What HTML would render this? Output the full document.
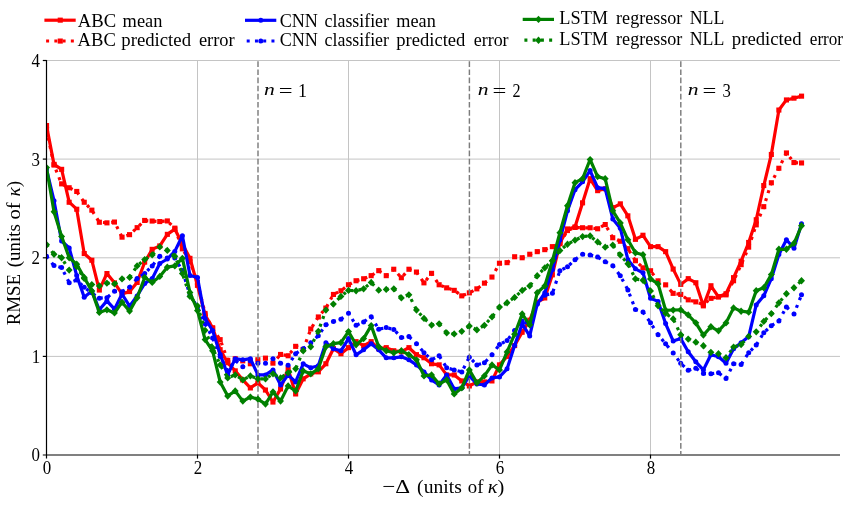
<!DOCTYPE html>
<html><head><meta charset="utf-8"><title>RMSE chart</title>
<style>
html,body{margin:0;padding:0;background:#fff;}
body{width:847px;height:507px;position:relative;overflow:hidden;font-family:"Liberation Serif",serif;color:#000;}
</style></head><body>
<svg width="847" height="507" viewBox="0 0 847 507" style="position:absolute;left:0;top:0;will-change:transform">
<line x1="46" y1="356.4" x2="840" y2="356.4" stroke="#c4c4c4" stroke-width="1"/>
<line x1="46" y1="257.8" x2="840" y2="257.8" stroke="#c4c4c4" stroke-width="1"/>
<line x1="46" y1="159.1" x2="840" y2="159.1" stroke="#c4c4c4" stroke-width="1"/>
<line x1="46" y1="60.5" x2="840" y2="60.5" stroke="#c4c4c4" stroke-width="1"/>
<line x1="197.5" y1="60" x2="197.5" y2="454" stroke="#c4c4c4" stroke-width="1"/>
<line x1="348.5" y1="60" x2="348.5" y2="454" stroke="#c4c4c4" stroke-width="1"/>
<line x1="499.5" y1="60" x2="499.5" y2="454" stroke="#c4c4c4" stroke-width="1"/>
<line x1="650.5" y1="60" x2="650.5" y2="454" stroke="#c4c4c4" stroke-width="1"/>
<defs><clipPath id="pc"><rect x="46.5" y="55" width="800" height="400"/></clipPath></defs><g clip-path="url(#pc)">
<polyline points="46.5,125.6 54.0,164.4 61.6,169.4 69.2,202.2 76.7,209.2 84.2,253.5 91.8,260.2 99.3,290.1 106.9,273.5 114.5,282.8 122.0,293.9 129.6,291.6 137.1,282.4 144.7,262.2 152.2,249.4 159.8,245.9 167.3,234.4 174.8,229.1 182.4,243.9 190.0,258.3 197.5,285.4 205.1,315.0 212.6,327.8 220.2,349.7 227.7,362.8 235.2,370.9 242.8,379.9 250.4,387.9 257.9,382.9 265.5,390.0 273.0,402.0 280.6,388.9 288.1,368.8 295.6,394.0 303.2,378.9 310.8,373.8 318.3,371.9 325.9,363.8 333.4,348.7 340.9,353.7 348.5,347.7 356.1,341.7 363.6,345.7 371.2,341.7 378.7,348.7 386.2,347.7 393.8,350.8 401.4,351.7 408.9,347.7 416.5,354.7 424.0,357.8 431.6,363.8 439.1,364.9 446.7,374.9 454.2,374.9 461.8,380.9 469.3,386.0 476.9,381.9 484.4,381.9 492.0,380.9 499.5,364.9 507.1,356.4 514.6,345.5 522.2,332.2 529.7,320.2 537.2,302.1 544.8,298.0 552.4,274.8 559.9,243.0 567.5,229.0 575.0,227.0 582.6,202.8 590.1,178.7 597.6,190.7 605.2,188.7 612.8,207.8 620.3,203.8 627.9,215.8 635.4,239.3 643.0,235.3 650.5,246.6 658.1,246.6 665.6,251.6 673.2,269.1 680.7,284.4 688.2,278.7 695.8,282.7 703.4,305.9 710.9,285.8 718.5,296.8 726.0,293.7 733.6,277.7 741.1,261.2 748.7,242.5 756.2,219.8 763.8,185.6 771.3,154.5 778.9,110.0 786.4,99.9 794.0,98.2 801.5,96.1" fill="none" stroke="#ff0000" stroke-width="3.2" stroke-linejoin="round" /><rect x="44.0" y="123.0" width="5.1" height="5.1" fill="#ff0000"/><rect x="51.5" y="161.8" width="5.1" height="5.1" fill="#ff0000"/><rect x="59.1" y="166.8" width="5.1" height="5.1" fill="#ff0000"/><rect x="66.6" y="199.7" width="5.1" height="5.1" fill="#ff0000"/><rect x="74.2" y="206.7" width="5.1" height="5.1" fill="#ff0000"/><rect x="81.7" y="251.0" width="5.1" height="5.1" fill="#ff0000"/><rect x="89.3" y="257.7" width="5.1" height="5.1" fill="#ff0000"/><rect x="96.8" y="287.5" width="5.1" height="5.1" fill="#ff0000"/><rect x="104.4" y="271.0" width="5.1" height="5.1" fill="#ff0000"/><rect x="111.9" y="280.3" width="5.1" height="5.1" fill="#ff0000"/><rect x="119.5" y="291.4" width="5.1" height="5.1" fill="#ff0000"/><rect x="127.0" y="289.0" width="5.1" height="5.1" fill="#ff0000"/><rect x="134.6" y="279.9" width="5.1" height="5.1" fill="#ff0000"/><rect x="142.1" y="259.6" width="5.1" height="5.1" fill="#ff0000"/><rect x="149.6" y="246.8" width="5.1" height="5.1" fill="#ff0000"/><rect x="157.2" y="243.4" width="5.1" height="5.1" fill="#ff0000"/><rect x="164.8" y="231.8" width="5.1" height="5.1" fill="#ff0000"/><rect x="172.3" y="226.6" width="5.1" height="5.1" fill="#ff0000"/><rect x="179.8" y="241.4" width="5.1" height="5.1" fill="#ff0000"/><rect x="187.4" y="255.8" width="5.1" height="5.1" fill="#ff0000"/><rect x="194.9" y="282.8" width="5.1" height="5.1" fill="#ff0000"/><rect x="202.5" y="312.4" width="5.1" height="5.1" fill="#ff0000"/><rect x="210.1" y="325.2" width="5.1" height="5.1" fill="#ff0000"/><rect x="217.6" y="347.1" width="5.1" height="5.1" fill="#ff0000"/><rect x="225.2" y="360.2" width="5.1" height="5.1" fill="#ff0000"/><rect x="232.7" y="368.3" width="5.1" height="5.1" fill="#ff0000"/><rect x="240.2" y="377.4" width="5.1" height="5.1" fill="#ff0000"/><rect x="247.8" y="385.4" width="5.1" height="5.1" fill="#ff0000"/><rect x="255.3" y="380.4" width="5.1" height="5.1" fill="#ff0000"/><rect x="262.9" y="387.5" width="5.1" height="5.1" fill="#ff0000"/><rect x="270.4" y="399.5" width="5.1" height="5.1" fill="#ff0000"/><rect x="278.0" y="386.4" width="5.1" height="5.1" fill="#ff0000"/><rect x="285.6" y="366.3" width="5.1" height="5.1" fill="#ff0000"/><rect x="293.1" y="391.4" width="5.1" height="5.1" fill="#ff0000"/><rect x="300.6" y="376.3" width="5.1" height="5.1" fill="#ff0000"/><rect x="308.2" y="371.3" width="5.1" height="5.1" fill="#ff0000"/><rect x="315.8" y="369.3" width="5.1" height="5.1" fill="#ff0000"/><rect x="323.3" y="361.2" width="5.1" height="5.1" fill="#ff0000"/><rect x="330.9" y="346.1" width="5.1" height="5.1" fill="#ff0000"/><rect x="338.4" y="351.2" width="5.1" height="5.1" fill="#ff0000"/><rect x="345.9" y="345.1" width="5.1" height="5.1" fill="#ff0000"/><rect x="353.5" y="339.1" width="5.1" height="5.1" fill="#ff0000"/><rect x="361.1" y="343.2" width="5.1" height="5.1" fill="#ff0000"/><rect x="368.6" y="339.1" width="5.1" height="5.1" fill="#ff0000"/><rect x="376.2" y="346.1" width="5.1" height="5.1" fill="#ff0000"/><rect x="383.7" y="345.1" width="5.1" height="5.1" fill="#ff0000"/><rect x="391.2" y="348.2" width="5.1" height="5.1" fill="#ff0000"/><rect x="398.8" y="349.2" width="5.1" height="5.1" fill="#ff0000"/><rect x="406.4" y="345.1" width="5.1" height="5.1" fill="#ff0000"/><rect x="413.9" y="352.1" width="5.1" height="5.1" fill="#ff0000"/><rect x="421.4" y="355.2" width="5.1" height="5.1" fill="#ff0000"/><rect x="429.0" y="361.2" width="5.1" height="5.1" fill="#ff0000"/><rect x="436.6" y="362.3" width="5.1" height="5.1" fill="#ff0000"/><rect x="444.1" y="372.4" width="5.1" height="5.1" fill="#ff0000"/><rect x="451.7" y="372.4" width="5.1" height="5.1" fill="#ff0000"/><rect x="459.2" y="378.4" width="5.1" height="5.1" fill="#ff0000"/><rect x="466.8" y="383.4" width="5.1" height="5.1" fill="#ff0000"/><rect x="474.3" y="379.4" width="5.1" height="5.1" fill="#ff0000"/><rect x="481.9" y="379.4" width="5.1" height="5.1" fill="#ff0000"/><rect x="489.4" y="378.4" width="5.1" height="5.1" fill="#ff0000"/><rect x="496.9" y="362.3" width="5.1" height="5.1" fill="#ff0000"/><rect x="504.5" y="353.8" width="5.1" height="5.1" fill="#ff0000"/><rect x="512.1" y="343.0" width="5.1" height="5.1" fill="#ff0000"/><rect x="519.6" y="329.7" width="5.1" height="5.1" fill="#ff0000"/><rect x="527.2" y="317.6" width="5.1" height="5.1" fill="#ff0000"/><rect x="534.7" y="299.6" width="5.1" height="5.1" fill="#ff0000"/><rect x="542.2" y="295.4" width="5.1" height="5.1" fill="#ff0000"/><rect x="549.8" y="272.3" width="5.1" height="5.1" fill="#ff0000"/><rect x="557.4" y="240.4" width="5.1" height="5.1" fill="#ff0000"/><rect x="564.9" y="226.4" width="5.1" height="5.1" fill="#ff0000"/><rect x="572.5" y="224.4" width="5.1" height="5.1" fill="#ff0000"/><rect x="580.0" y="200.3" width="5.1" height="5.1" fill="#ff0000"/><rect x="587.6" y="176.1" width="5.1" height="5.1" fill="#ff0000"/><rect x="595.1" y="188.1" width="5.1" height="5.1" fill="#ff0000"/><rect x="602.7" y="186.2" width="5.1" height="5.1" fill="#ff0000"/><rect x="610.2" y="205.3" width="5.1" height="5.1" fill="#ff0000"/><rect x="617.8" y="201.3" width="5.1" height="5.1" fill="#ff0000"/><rect x="625.3" y="213.3" width="5.1" height="5.1" fill="#ff0000"/><rect x="632.9" y="236.8" width="5.1" height="5.1" fill="#ff0000"/><rect x="640.4" y="232.7" width="5.1" height="5.1" fill="#ff0000"/><rect x="648.0" y="244.1" width="5.1" height="5.1" fill="#ff0000"/><rect x="655.5" y="244.1" width="5.1" height="5.1" fill="#ff0000"/><rect x="663.1" y="249.1" width="5.1" height="5.1" fill="#ff0000"/><rect x="670.6" y="266.5" width="5.1" height="5.1" fill="#ff0000"/><rect x="678.2" y="281.8" width="5.1" height="5.1" fill="#ff0000"/><rect x="685.7" y="276.1" width="5.1" height="5.1" fill="#ff0000"/><rect x="693.3" y="280.2" width="5.1" height="5.1" fill="#ff0000"/><rect x="700.8" y="303.3" width="5.1" height="5.1" fill="#ff0000"/><rect x="708.4" y="283.2" width="5.1" height="5.1" fill="#ff0000"/><rect x="715.9" y="294.3" width="5.1" height="5.1" fill="#ff0000"/><rect x="723.5" y="291.2" width="5.1" height="5.1" fill="#ff0000"/><rect x="731.0" y="275.1" width="5.1" height="5.1" fill="#ff0000"/><rect x="738.6" y="258.7" width="5.1" height="5.1" fill="#ff0000"/><rect x="746.1" y="239.9" width="5.1" height="5.1" fill="#ff0000"/><rect x="753.7" y="217.2" width="5.1" height="5.1" fill="#ff0000"/><rect x="761.2" y="183.0" width="5.1" height="5.1" fill="#ff0000"/><rect x="768.8" y="151.9" width="5.1" height="5.1" fill="#ff0000"/><rect x="776.3" y="107.5" width="5.1" height="5.1" fill="#ff0000"/><rect x="783.9" y="97.4" width="5.1" height="5.1" fill="#ff0000"/><rect x="791.4" y="95.6" width="5.1" height="5.1" fill="#ff0000"/><rect x="799.0" y="93.6" width="5.1" height="5.1" fill="#ff0000"/>
<polyline points="46.5,129.5 54.0,165.0 61.6,183.9 69.2,187.7 76.7,191.5 84.2,202.2 91.8,210.1 99.3,222.2 106.9,222.8 114.5,222.0 122.0,237.1 129.6,234.7 137.1,227.7 144.7,220.5 152.2,221.1 159.8,221.6 167.3,221.0 174.8,228.2 182.4,248.9 190.0,261.7 197.5,282.4 205.1,313.5 212.6,328.8 220.2,339.6 227.7,360.3 235.2,358.7 242.8,360.8 250.4,363.8 257.9,359.7 265.5,358.2 273.0,363.2 280.6,354.4 288.1,355.8 295.6,346.3 303.2,349.5 310.8,329.0 318.3,316.9 325.9,308.0 333.4,294.4 340.9,290.8 348.5,284.8 356.1,280.7 363.6,278.8 371.2,275.7 378.7,270.7 386.2,275.7 393.8,269.3 401.4,277.8 408.9,269.3 416.5,272.1 424.0,282.8 431.6,273.3 439.1,284.8 446.7,287.8 454.2,290.4 461.8,295.8 469.3,292.9 476.9,288.8 484.4,283.2 492.0,277.1 499.5,263.3 507.1,262.7 514.6,256.8 522.2,257.8 529.7,254.3 537.2,251.6 544.8,249.7 552.4,246.6 559.9,243.6 567.5,230.5 575.0,227.5 582.6,227.8 590.1,227.8 597.6,228.8 605.2,224.5 612.8,237.7 620.3,241.3 627.9,248.7 635.4,260.7 643.0,267.8 650.5,270.8 658.1,280.8 665.6,284.9 673.2,293.4 680.7,294.4 688.2,299.9 695.8,301.8 703.4,304.5 710.9,298.4 718.5,296.8 726.0,294.8 733.6,280.7 741.1,264.7 748.7,247.2 756.2,224.8 763.8,206.7 771.3,182.8 778.9,168.3 786.4,152.9 794.0,162.6 801.5,163.0" fill="none" stroke="#ff0000" stroke-width="3.2" stroke-linejoin="round" stroke-dasharray="3 5.25"/><rect x="44.0" y="127.0" width="5.1" height="5.1" fill="#ff0000"/><rect x="51.5" y="162.5" width="5.1" height="5.1" fill="#ff0000"/><rect x="59.1" y="181.3" width="5.1" height="5.1" fill="#ff0000"/><rect x="66.6" y="185.2" width="5.1" height="5.1" fill="#ff0000"/><rect x="74.2" y="188.9" width="5.1" height="5.1" fill="#ff0000"/><rect x="81.7" y="199.7" width="5.1" height="5.1" fill="#ff0000"/><rect x="89.3" y="207.6" width="5.1" height="5.1" fill="#ff0000"/><rect x="96.8" y="219.7" width="5.1" height="5.1" fill="#ff0000"/><rect x="104.4" y="220.3" width="5.1" height="5.1" fill="#ff0000"/><rect x="111.9" y="219.5" width="5.1" height="5.1" fill="#ff0000"/><rect x="119.5" y="234.6" width="5.1" height="5.1" fill="#ff0000"/><rect x="127.0" y="232.1" width="5.1" height="5.1" fill="#ff0000"/><rect x="134.6" y="225.1" width="5.1" height="5.1" fill="#ff0000"/><rect x="142.1" y="217.9" width="5.1" height="5.1" fill="#ff0000"/><rect x="149.6" y="218.5" width="5.1" height="5.1" fill="#ff0000"/><rect x="157.2" y="219.0" width="5.1" height="5.1" fill="#ff0000"/><rect x="164.8" y="218.4" width="5.1" height="5.1" fill="#ff0000"/><rect x="172.3" y="225.6" width="5.1" height="5.1" fill="#ff0000"/><rect x="179.8" y="246.3" width="5.1" height="5.1" fill="#ff0000"/><rect x="187.4" y="259.1" width="5.1" height="5.1" fill="#ff0000"/><rect x="194.9" y="279.9" width="5.1" height="5.1" fill="#ff0000"/><rect x="202.5" y="310.9" width="5.1" height="5.1" fill="#ff0000"/><rect x="210.1" y="326.2" width="5.1" height="5.1" fill="#ff0000"/><rect x="217.6" y="337.1" width="5.1" height="5.1" fill="#ff0000"/><rect x="225.2" y="357.8" width="5.1" height="5.1" fill="#ff0000"/><rect x="232.7" y="356.2" width="5.1" height="5.1" fill="#ff0000"/><rect x="240.2" y="358.3" width="5.1" height="5.1" fill="#ff0000"/><rect x="247.8" y="361.2" width="5.1" height="5.1" fill="#ff0000"/><rect x="255.3" y="357.2" width="5.1" height="5.1" fill="#ff0000"/><rect x="262.9" y="355.6" width="5.1" height="5.1" fill="#ff0000"/><rect x="270.4" y="360.6" width="5.1" height="5.1" fill="#ff0000"/><rect x="278.0" y="351.9" width="5.1" height="5.1" fill="#ff0000"/><rect x="285.6" y="353.2" width="5.1" height="5.1" fill="#ff0000"/><rect x="293.1" y="343.8" width="5.1" height="5.1" fill="#ff0000"/><rect x="300.6" y="346.9" width="5.1" height="5.1" fill="#ff0000"/><rect x="308.2" y="326.4" width="5.1" height="5.1" fill="#ff0000"/><rect x="315.8" y="314.4" width="5.1" height="5.1" fill="#ff0000"/><rect x="323.3" y="305.5" width="5.1" height="5.1" fill="#ff0000"/><rect x="330.9" y="291.9" width="5.1" height="5.1" fill="#ff0000"/><rect x="338.4" y="288.2" width="5.1" height="5.1" fill="#ff0000"/><rect x="345.9" y="282.2" width="5.1" height="5.1" fill="#ff0000"/><rect x="353.5" y="278.2" width="5.1" height="5.1" fill="#ff0000"/><rect x="361.1" y="276.2" width="5.1" height="5.1" fill="#ff0000"/><rect x="368.6" y="273.1" width="5.1" height="5.1" fill="#ff0000"/><rect x="376.2" y="268.1" width="5.1" height="5.1" fill="#ff0000"/><rect x="383.7" y="273.1" width="5.1" height="5.1" fill="#ff0000"/><rect x="391.2" y="266.7" width="5.1" height="5.1" fill="#ff0000"/><rect x="398.8" y="275.2" width="5.1" height="5.1" fill="#ff0000"/><rect x="406.4" y="266.7" width="5.1" height="5.1" fill="#ff0000"/><rect x="413.9" y="269.5" width="5.1" height="5.1" fill="#ff0000"/><rect x="421.4" y="280.3" width="5.1" height="5.1" fill="#ff0000"/><rect x="429.0" y="270.8" width="5.1" height="5.1" fill="#ff0000"/><rect x="436.6" y="282.2" width="5.1" height="5.1" fill="#ff0000"/><rect x="444.1" y="285.3" width="5.1" height="5.1" fill="#ff0000"/><rect x="451.7" y="287.8" width="5.1" height="5.1" fill="#ff0000"/><rect x="459.2" y="293.3" width="5.1" height="5.1" fill="#ff0000"/><rect x="466.8" y="290.3" width="5.1" height="5.1" fill="#ff0000"/><rect x="474.3" y="286.3" width="5.1" height="5.1" fill="#ff0000"/><rect x="481.9" y="280.6" width="5.1" height="5.1" fill="#ff0000"/><rect x="489.4" y="274.5" width="5.1" height="5.1" fill="#ff0000"/><rect x="496.9" y="260.7" width="5.1" height="5.1" fill="#ff0000"/><rect x="504.5" y="260.1" width="5.1" height="5.1" fill="#ff0000"/><rect x="512.1" y="254.2" width="5.1" height="5.1" fill="#ff0000"/><rect x="519.6" y="255.2" width="5.1" height="5.1" fill="#ff0000"/><rect x="527.2" y="251.7" width="5.1" height="5.1" fill="#ff0000"/><rect x="534.7" y="249.1" width="5.1" height="5.1" fill="#ff0000"/><rect x="542.2" y="247.1" width="5.1" height="5.1" fill="#ff0000"/><rect x="549.8" y="244.1" width="5.1" height="5.1" fill="#ff0000"/><rect x="557.4" y="241.1" width="5.1" height="5.1" fill="#ff0000"/><rect x="564.9" y="228.0" width="5.1" height="5.1" fill="#ff0000"/><rect x="572.5" y="224.9" width="5.1" height="5.1" fill="#ff0000"/><rect x="580.0" y="225.2" width="5.1" height="5.1" fill="#ff0000"/><rect x="587.6" y="225.2" width="5.1" height="5.1" fill="#ff0000"/><rect x="595.1" y="226.2" width="5.1" height="5.1" fill="#ff0000"/><rect x="602.7" y="222.0" width="5.1" height="5.1" fill="#ff0000"/><rect x="610.2" y="235.2" width="5.1" height="5.1" fill="#ff0000"/><rect x="617.8" y="238.7" width="5.1" height="5.1" fill="#ff0000"/><rect x="625.3" y="246.1" width="5.1" height="5.1" fill="#ff0000"/><rect x="632.9" y="258.2" width="5.1" height="5.1" fill="#ff0000"/><rect x="640.4" y="265.3" width="5.1" height="5.1" fill="#ff0000"/><rect x="648.0" y="268.2" width="5.1" height="5.1" fill="#ff0000"/><rect x="655.5" y="278.3" width="5.1" height="5.1" fill="#ff0000"/><rect x="663.1" y="282.3" width="5.1" height="5.1" fill="#ff0000"/><rect x="670.6" y="290.8" width="5.1" height="5.1" fill="#ff0000"/><rect x="678.2" y="291.9" width="5.1" height="5.1" fill="#ff0000"/><rect x="685.7" y="297.3" width="5.1" height="5.1" fill="#ff0000"/><rect x="693.3" y="299.3" width="5.1" height="5.1" fill="#ff0000"/><rect x="700.8" y="301.9" width="5.1" height="5.1" fill="#ff0000"/><rect x="708.4" y="295.8" width="5.1" height="5.1" fill="#ff0000"/><rect x="715.9" y="294.3" width="5.1" height="5.1" fill="#ff0000"/><rect x="723.5" y="292.3" width="5.1" height="5.1" fill="#ff0000"/><rect x="731.0" y="278.2" width="5.1" height="5.1" fill="#ff0000"/><rect x="738.6" y="262.1" width="5.1" height="5.1" fill="#ff0000"/><rect x="746.1" y="244.6" width="5.1" height="5.1" fill="#ff0000"/><rect x="753.7" y="222.3" width="5.1" height="5.1" fill="#ff0000"/><rect x="761.2" y="204.1" width="5.1" height="5.1" fill="#ff0000"/><rect x="768.8" y="180.2" width="5.1" height="5.1" fill="#ff0000"/><rect x="776.3" y="165.7" width="5.1" height="5.1" fill="#ff0000"/><rect x="783.9" y="150.4" width="5.1" height="5.1" fill="#ff0000"/><rect x="791.4" y="160.0" width="5.1" height="5.1" fill="#ff0000"/><rect x="799.0" y="160.4" width="5.1" height="5.1" fill="#ff0000"/>
<polyline points="46.5,169.0 54.0,200.7 61.6,241.0 69.2,247.9 76.7,275.5 84.2,297.2 91.8,290.9 99.3,309.8 106.9,300.9 114.5,309.2 122.0,294.0 129.6,306.1 137.1,295.9 144.7,283.4 152.2,278.6 159.8,263.5 167.3,259.0 174.8,251.4 182.4,235.7 190.0,275.5 197.5,277.5 205.1,318.5 212.6,330.5 220.2,354.4 227.7,374.9 235.2,358.7 242.8,359.8 250.4,358.7 257.9,374.9 265.5,374.9 273.0,369.9 280.6,385.0 288.1,374.9 295.6,381.9 303.2,363.8 310.8,367.8 318.3,365.8 325.9,342.7 333.4,348.7 340.9,350.8 348.5,338.6 356.1,354.8 363.6,349.8 371.2,343.7 378.7,349.8 386.2,357.8 393.8,357.8 401.4,356.8 408.9,359.8 416.5,364.9 424.0,371.9 431.6,379.9 439.1,385.0 446.7,374.9 454.2,388.9 461.8,387.9 469.3,375.9 476.9,384.0 484.4,385.0 492.0,377.9 499.5,376.9 507.1,368.8 514.6,345.5 522.2,323.8 529.7,335.9 537.2,304.1 544.8,292.8 552.4,269.8 559.9,240.0 567.5,210.8 575.0,189.7 582.6,181.8 590.1,170.6 597.6,187.7 605.2,188.7 612.8,218.9 620.3,228.2 627.9,259.7 635.4,268.8 643.0,272.8 650.5,298.2 658.1,301.4 665.6,323.6 673.2,341.1 680.7,338.6 688.2,351.7 695.8,361.8 703.4,369.9 710.9,354.7 718.5,356.8 726.0,363.2 733.6,348.7 741.1,342.7 748.7,336.6 756.2,304.9 763.8,295.8 771.3,278.7 778.9,254.5 786.4,239.7 794.0,248.2 801.5,223.8" fill="none" stroke="#0000ff" stroke-width="3.2" stroke-linejoin="round" /><circle cx="46.5" cy="169.0" r="2.5" fill="#0000ff"/><circle cx="54.0" cy="200.7" r="2.5" fill="#0000ff"/><circle cx="61.6" cy="241.0" r="2.5" fill="#0000ff"/><circle cx="69.2" cy="247.9" r="2.5" fill="#0000ff"/><circle cx="76.7" cy="275.5" r="2.5" fill="#0000ff"/><circle cx="84.2" cy="297.2" r="2.5" fill="#0000ff"/><circle cx="91.8" cy="290.9" r="2.5" fill="#0000ff"/><circle cx="99.3" cy="309.8" r="2.5" fill="#0000ff"/><circle cx="106.9" cy="300.9" r="2.5" fill="#0000ff"/><circle cx="114.5" cy="309.2" r="2.5" fill="#0000ff"/><circle cx="122.0" cy="294.0" r="2.5" fill="#0000ff"/><circle cx="129.6" cy="306.1" r="2.5" fill="#0000ff"/><circle cx="137.1" cy="295.9" r="2.5" fill="#0000ff"/><circle cx="144.7" cy="283.4" r="2.5" fill="#0000ff"/><circle cx="152.2" cy="278.6" r="2.5" fill="#0000ff"/><circle cx="159.8" cy="263.5" r="2.5" fill="#0000ff"/><circle cx="167.3" cy="259.0" r="2.5" fill="#0000ff"/><circle cx="174.8" cy="251.4" r="2.5" fill="#0000ff"/><circle cx="182.4" cy="235.7" r="2.5" fill="#0000ff"/><circle cx="190.0" cy="275.5" r="2.5" fill="#0000ff"/><circle cx="197.5" cy="277.5" r="2.5" fill="#0000ff"/><circle cx="205.1" cy="318.5" r="2.5" fill="#0000ff"/><circle cx="212.6" cy="330.5" r="2.5" fill="#0000ff"/><circle cx="220.2" cy="354.4" r="2.5" fill="#0000ff"/><circle cx="227.7" cy="374.9" r="2.5" fill="#0000ff"/><circle cx="235.2" cy="358.7" r="2.5" fill="#0000ff"/><circle cx="242.8" cy="359.8" r="2.5" fill="#0000ff"/><circle cx="250.4" cy="358.7" r="2.5" fill="#0000ff"/><circle cx="257.9" cy="374.9" r="2.5" fill="#0000ff"/><circle cx="265.5" cy="374.9" r="2.5" fill="#0000ff"/><circle cx="273.0" cy="369.9" r="2.5" fill="#0000ff"/><circle cx="280.6" cy="385.0" r="2.5" fill="#0000ff"/><circle cx="288.1" cy="374.9" r="2.5" fill="#0000ff"/><circle cx="295.6" cy="381.9" r="2.5" fill="#0000ff"/><circle cx="303.2" cy="363.8" r="2.5" fill="#0000ff"/><circle cx="310.8" cy="367.8" r="2.5" fill="#0000ff"/><circle cx="318.3" cy="365.8" r="2.5" fill="#0000ff"/><circle cx="325.9" cy="342.7" r="2.5" fill="#0000ff"/><circle cx="333.4" cy="348.7" r="2.5" fill="#0000ff"/><circle cx="340.9" cy="350.8" r="2.5" fill="#0000ff"/><circle cx="348.5" cy="338.6" r="2.5" fill="#0000ff"/><circle cx="356.1" cy="354.8" r="2.5" fill="#0000ff"/><circle cx="363.6" cy="349.8" r="2.5" fill="#0000ff"/><circle cx="371.2" cy="343.7" r="2.5" fill="#0000ff"/><circle cx="378.7" cy="349.8" r="2.5" fill="#0000ff"/><circle cx="386.2" cy="357.8" r="2.5" fill="#0000ff"/><circle cx="393.8" cy="357.8" r="2.5" fill="#0000ff"/><circle cx="401.4" cy="356.8" r="2.5" fill="#0000ff"/><circle cx="408.9" cy="359.8" r="2.5" fill="#0000ff"/><circle cx="416.5" cy="364.9" r="2.5" fill="#0000ff"/><circle cx="424.0" cy="371.9" r="2.5" fill="#0000ff"/><circle cx="431.6" cy="379.9" r="2.5" fill="#0000ff"/><circle cx="439.1" cy="385.0" r="2.5" fill="#0000ff"/><circle cx="446.7" cy="374.9" r="2.5" fill="#0000ff"/><circle cx="454.2" cy="388.9" r="2.5" fill="#0000ff"/><circle cx="461.8" cy="387.9" r="2.5" fill="#0000ff"/><circle cx="469.3" cy="375.9" r="2.5" fill="#0000ff"/><circle cx="476.9" cy="384.0" r="2.5" fill="#0000ff"/><circle cx="484.4" cy="385.0" r="2.5" fill="#0000ff"/><circle cx="492.0" cy="377.9" r="2.5" fill="#0000ff"/><circle cx="499.5" cy="376.9" r="2.5" fill="#0000ff"/><circle cx="507.1" cy="368.8" r="2.5" fill="#0000ff"/><circle cx="514.6" cy="345.5" r="2.5" fill="#0000ff"/><circle cx="522.2" cy="323.8" r="2.5" fill="#0000ff"/><circle cx="529.7" cy="335.9" r="2.5" fill="#0000ff"/><circle cx="537.2" cy="304.1" r="2.5" fill="#0000ff"/><circle cx="544.8" cy="292.8" r="2.5" fill="#0000ff"/><circle cx="552.4" cy="269.8" r="2.5" fill="#0000ff"/><circle cx="559.9" cy="240.0" r="2.5" fill="#0000ff"/><circle cx="567.5" cy="210.8" r="2.5" fill="#0000ff"/><circle cx="575.0" cy="189.7" r="2.5" fill="#0000ff"/><circle cx="582.6" cy="181.8" r="2.5" fill="#0000ff"/><circle cx="590.1" cy="170.6" r="2.5" fill="#0000ff"/><circle cx="597.6" cy="187.7" r="2.5" fill="#0000ff"/><circle cx="605.2" cy="188.7" r="2.5" fill="#0000ff"/><circle cx="612.8" cy="218.9" r="2.5" fill="#0000ff"/><circle cx="620.3" cy="228.2" r="2.5" fill="#0000ff"/><circle cx="627.9" cy="259.7" r="2.5" fill="#0000ff"/><circle cx="635.4" cy="268.8" r="2.5" fill="#0000ff"/><circle cx="643.0" cy="272.8" r="2.5" fill="#0000ff"/><circle cx="650.5" cy="298.2" r="2.5" fill="#0000ff"/><circle cx="658.1" cy="301.4" r="2.5" fill="#0000ff"/><circle cx="665.6" cy="323.6" r="2.5" fill="#0000ff"/><circle cx="673.2" cy="341.1" r="2.5" fill="#0000ff"/><circle cx="680.7" cy="338.6" r="2.5" fill="#0000ff"/><circle cx="688.2" cy="351.7" r="2.5" fill="#0000ff"/><circle cx="695.8" cy="361.8" r="2.5" fill="#0000ff"/><circle cx="703.4" cy="369.9" r="2.5" fill="#0000ff"/><circle cx="710.9" cy="354.7" r="2.5" fill="#0000ff"/><circle cx="718.5" cy="356.8" r="2.5" fill="#0000ff"/><circle cx="726.0" cy="363.2" r="2.5" fill="#0000ff"/><circle cx="733.6" cy="348.7" r="2.5" fill="#0000ff"/><circle cx="741.1" cy="342.7" r="2.5" fill="#0000ff"/><circle cx="748.7" cy="336.6" r="2.5" fill="#0000ff"/><circle cx="756.2" cy="304.9" r="2.5" fill="#0000ff"/><circle cx="763.8" cy="295.8" r="2.5" fill="#0000ff"/><circle cx="771.3" cy="278.7" r="2.5" fill="#0000ff"/><circle cx="778.9" cy="254.5" r="2.5" fill="#0000ff"/><circle cx="786.4" cy="239.7" r="2.5" fill="#0000ff"/><circle cx="794.0" cy="248.2" r="2.5" fill="#0000ff"/><circle cx="801.5" cy="223.8" r="2.5" fill="#0000ff"/>
<polyline points="46.5,256.2 54.0,265.6 61.6,267.6 69.2,282.7 76.7,280.1 84.2,287.3 91.8,292.8 99.3,298.2 106.9,297.7 114.5,291.3 122.0,291.8 129.6,287.3 137.1,278.5 144.7,273.5 152.2,265.9 159.8,256.3 167.3,258.1 174.8,258.1 182.4,270.6 190.0,295.2 197.5,307.1 205.1,323.8 212.6,337.9 220.2,356.4 227.7,370.9 235.2,360.3 242.8,366.8 250.4,360.8 257.9,363.2 265.5,363.2 273.0,358.7 280.6,363.2 288.1,365.3 295.6,353.7 303.2,348.7 310.8,342.7 318.3,335.7 325.9,324.8 333.4,321.5 340.9,319.2 348.5,313.2 356.1,325.3 363.6,321.9 371.2,316.7 378.7,329.3 386.2,327.6 393.8,329.5 401.4,337.6 408.9,336.6 416.5,343.7 424.0,352.7 431.6,359.8 439.1,355.8 446.7,367.8 454.2,369.9 461.8,371.9 469.3,357.2 476.9,364.9 484.4,362.8 492.0,354.7 499.5,344.5 507.1,340.6 514.6,330.4 522.2,320.9 529.7,324.8 537.2,304.1 544.8,295.2 552.4,293.3 559.9,270.8 567.5,266.7 575.0,259.7 582.6,254.3 590.1,255.1 597.6,257.1 605.2,261.7 612.8,265.7 620.3,275.8 627.9,289.9 635.4,309.4 643.0,312.1 650.5,322.8 658.1,334.7 665.6,343.8 673.2,353.0 680.7,363.3 688.2,370.3 695.8,368.2 703.4,373.4 710.9,373.8 718.5,372.8 726.0,378.5 733.6,363.8 741.1,364.4 748.7,352.7 756.2,345.1 763.8,332.7 771.3,325.8 778.9,320.9 786.4,306.9 794.0,313.9 801.5,294.8" fill="none" stroke="#0000ff" stroke-width="3.2" stroke-linejoin="round" stroke-dasharray="3 5.25"/><circle cx="46.5" cy="256.2" r="2.5" fill="#0000ff"/><circle cx="54.0" cy="265.6" r="2.5" fill="#0000ff"/><circle cx="61.6" cy="267.6" r="2.5" fill="#0000ff"/><circle cx="69.2" cy="282.7" r="2.5" fill="#0000ff"/><circle cx="76.7" cy="280.1" r="2.5" fill="#0000ff"/><circle cx="84.2" cy="287.3" r="2.5" fill="#0000ff"/><circle cx="91.8" cy="292.8" r="2.5" fill="#0000ff"/><circle cx="99.3" cy="298.2" r="2.5" fill="#0000ff"/><circle cx="106.9" cy="297.7" r="2.5" fill="#0000ff"/><circle cx="114.5" cy="291.3" r="2.5" fill="#0000ff"/><circle cx="122.0" cy="291.8" r="2.5" fill="#0000ff"/><circle cx="129.6" cy="287.3" r="2.5" fill="#0000ff"/><circle cx="137.1" cy="278.5" r="2.5" fill="#0000ff"/><circle cx="144.7" cy="273.5" r="2.5" fill="#0000ff"/><circle cx="152.2" cy="265.9" r="2.5" fill="#0000ff"/><circle cx="159.8" cy="256.3" r="2.5" fill="#0000ff"/><circle cx="167.3" cy="258.1" r="2.5" fill="#0000ff"/><circle cx="174.8" cy="258.1" r="2.5" fill="#0000ff"/><circle cx="182.4" cy="270.6" r="2.5" fill="#0000ff"/><circle cx="190.0" cy="295.2" r="2.5" fill="#0000ff"/><circle cx="197.5" cy="307.1" r="2.5" fill="#0000ff"/><circle cx="205.1" cy="323.8" r="2.5" fill="#0000ff"/><circle cx="212.6" cy="337.9" r="2.5" fill="#0000ff"/><circle cx="220.2" cy="356.4" r="2.5" fill="#0000ff"/><circle cx="227.7" cy="370.9" r="2.5" fill="#0000ff"/><circle cx="235.2" cy="360.3" r="2.5" fill="#0000ff"/><circle cx="242.8" cy="366.8" r="2.5" fill="#0000ff"/><circle cx="250.4" cy="360.8" r="2.5" fill="#0000ff"/><circle cx="257.9" cy="363.2" r="2.5" fill="#0000ff"/><circle cx="265.5" cy="363.2" r="2.5" fill="#0000ff"/><circle cx="273.0" cy="358.7" r="2.5" fill="#0000ff"/><circle cx="280.6" cy="363.2" r="2.5" fill="#0000ff"/><circle cx="288.1" cy="365.3" r="2.5" fill="#0000ff"/><circle cx="295.6" cy="353.7" r="2.5" fill="#0000ff"/><circle cx="303.2" cy="348.7" r="2.5" fill="#0000ff"/><circle cx="310.8" cy="342.7" r="2.5" fill="#0000ff"/><circle cx="318.3" cy="335.7" r="2.5" fill="#0000ff"/><circle cx="325.9" cy="324.8" r="2.5" fill="#0000ff"/><circle cx="333.4" cy="321.5" r="2.5" fill="#0000ff"/><circle cx="340.9" cy="319.2" r="2.5" fill="#0000ff"/><circle cx="348.5" cy="313.2" r="2.5" fill="#0000ff"/><circle cx="356.1" cy="325.3" r="2.5" fill="#0000ff"/><circle cx="363.6" cy="321.9" r="2.5" fill="#0000ff"/><circle cx="371.2" cy="316.7" r="2.5" fill="#0000ff"/><circle cx="378.7" cy="329.3" r="2.5" fill="#0000ff"/><circle cx="386.2" cy="327.6" r="2.5" fill="#0000ff"/><circle cx="393.8" cy="329.5" r="2.5" fill="#0000ff"/><circle cx="401.4" cy="337.6" r="2.5" fill="#0000ff"/><circle cx="408.9" cy="336.6" r="2.5" fill="#0000ff"/><circle cx="416.5" cy="343.7" r="2.5" fill="#0000ff"/><circle cx="424.0" cy="352.7" r="2.5" fill="#0000ff"/><circle cx="431.6" cy="359.8" r="2.5" fill="#0000ff"/><circle cx="439.1" cy="355.8" r="2.5" fill="#0000ff"/><circle cx="446.7" cy="367.8" r="2.5" fill="#0000ff"/><circle cx="454.2" cy="369.9" r="2.5" fill="#0000ff"/><circle cx="461.8" cy="371.9" r="2.5" fill="#0000ff"/><circle cx="469.3" cy="357.2" r="2.5" fill="#0000ff"/><circle cx="476.9" cy="364.9" r="2.5" fill="#0000ff"/><circle cx="484.4" cy="362.8" r="2.5" fill="#0000ff"/><circle cx="492.0" cy="354.7" r="2.5" fill="#0000ff"/><circle cx="499.5" cy="344.5" r="2.5" fill="#0000ff"/><circle cx="507.1" cy="340.6" r="2.5" fill="#0000ff"/><circle cx="514.6" cy="330.4" r="2.5" fill="#0000ff"/><circle cx="522.2" cy="320.9" r="2.5" fill="#0000ff"/><circle cx="529.7" cy="324.8" r="2.5" fill="#0000ff"/><circle cx="537.2" cy="304.1" r="2.5" fill="#0000ff"/><circle cx="544.8" cy="295.2" r="2.5" fill="#0000ff"/><circle cx="552.4" cy="293.3" r="2.5" fill="#0000ff"/><circle cx="559.9" cy="270.8" r="2.5" fill="#0000ff"/><circle cx="567.5" cy="266.7" r="2.5" fill="#0000ff"/><circle cx="575.0" cy="259.7" r="2.5" fill="#0000ff"/><circle cx="582.6" cy="254.3" r="2.5" fill="#0000ff"/><circle cx="590.1" cy="255.1" r="2.5" fill="#0000ff"/><circle cx="597.6" cy="257.1" r="2.5" fill="#0000ff"/><circle cx="605.2" cy="261.7" r="2.5" fill="#0000ff"/><circle cx="612.8" cy="265.7" r="2.5" fill="#0000ff"/><circle cx="620.3" cy="275.8" r="2.5" fill="#0000ff"/><circle cx="627.9" cy="289.9" r="2.5" fill="#0000ff"/><circle cx="635.4" cy="309.4" r="2.5" fill="#0000ff"/><circle cx="643.0" cy="312.1" r="2.5" fill="#0000ff"/><circle cx="650.5" cy="322.8" r="2.5" fill="#0000ff"/><circle cx="658.1" cy="334.7" r="2.5" fill="#0000ff"/><circle cx="665.6" cy="343.8" r="2.5" fill="#0000ff"/><circle cx="673.2" cy="353.0" r="2.5" fill="#0000ff"/><circle cx="680.7" cy="363.3" r="2.5" fill="#0000ff"/><circle cx="688.2" cy="370.3" r="2.5" fill="#0000ff"/><circle cx="695.8" cy="368.2" r="2.5" fill="#0000ff"/><circle cx="703.4" cy="373.4" r="2.5" fill="#0000ff"/><circle cx="710.9" cy="373.8" r="2.5" fill="#0000ff"/><circle cx="718.5" cy="372.8" r="2.5" fill="#0000ff"/><circle cx="726.0" cy="378.5" r="2.5" fill="#0000ff"/><circle cx="733.6" cy="363.8" r="2.5" fill="#0000ff"/><circle cx="741.1" cy="364.4" r="2.5" fill="#0000ff"/><circle cx="748.7" cy="352.7" r="2.5" fill="#0000ff"/><circle cx="756.2" cy="345.1" r="2.5" fill="#0000ff"/><circle cx="763.8" cy="332.7" r="2.5" fill="#0000ff"/><circle cx="771.3" cy="325.8" r="2.5" fill="#0000ff"/><circle cx="778.9" cy="320.9" r="2.5" fill="#0000ff"/><circle cx="786.4" cy="306.9" r="2.5" fill="#0000ff"/><circle cx="794.0" cy="313.9" r="2.5" fill="#0000ff"/><circle cx="801.5" cy="294.8" r="2.5" fill="#0000ff"/>
<line x1="258.00" y1="61.3" x2="258.00" y2="454" stroke="#7c7c7c" stroke-width="1.45" stroke-dasharray="5.7 2.42"/>
<line x1="469.40" y1="61.3" x2="469.40" y2="454" stroke="#7c7c7c" stroke-width="1.45" stroke-dasharray="5.7 2.42"/>
<line x1="680.80" y1="61.3" x2="680.80" y2="454" stroke="#7c7c7c" stroke-width="1.45" stroke-dasharray="5.7 2.42"/>
<polyline points="46.5,167.5 54.0,211.8 61.6,236.4 69.2,257.8 76.7,264.2 84.2,277.5 91.8,290.9 99.3,312.4 106.9,309.8 114.5,313.0 122.0,302.2 129.6,311.1 137.1,297.8 144.7,277.5 152.2,282.4 159.8,276.5 167.3,267.2 174.8,265.9 182.4,258.3 190.0,292.6 197.5,310.5 205.1,339.6 212.6,350.8 220.2,382.0 227.7,396.0 235.2,390.9 242.8,401.1 250.4,397.0 257.9,399.1 265.5,404.1 273.0,392.0 280.6,401.1 288.1,386.0 295.6,391.0 303.2,370.9 310.8,373.8 318.3,368.8 325.9,346.7 333.4,343.7 340.9,342.7 348.5,331.6 356.1,344.7 363.6,338.6 371.2,325.6 378.7,346.7 386.2,350.8 393.8,352.7 401.4,350.8 408.9,354.7 416.5,359.8 424.0,375.9 431.6,374.9 439.1,384.0 446.7,379.9 454.2,394.0 461.8,387.9 469.3,369.9 476.9,382.9 484.4,375.9 492.0,364.9 499.5,369.9 507.1,351.9 514.6,334.2 522.2,314.0 529.7,324.8 537.2,292.8 544.8,285.9 552.4,260.7 559.9,232.7 567.5,205.8 575.0,182.7 582.6,178.7 590.1,159.5 597.6,176.6 605.2,178.7 612.8,210.8 620.3,222.9 627.9,239.8 635.4,252.7 643.0,254.7 650.5,278.9 658.1,283.9 665.6,310.3 673.2,310.0 680.7,309.9 688.2,315.0 695.8,322.8 703.4,335.1 710.9,326.8 718.5,330.8 726.0,322.9 733.6,307.9 741.1,311.2 748.7,312.2 756.2,290.8 763.8,287.7 771.3,274.6 778.9,249.3 786.4,249.3 794.0,243.3 801.5,225.8" fill="none" stroke="#008000" stroke-width="3.2" stroke-linejoin="round" /><path d="M46.5 163.9L50.0 167.5L46.5 171.2L43.0 167.5Z" fill="#008000"/><path d="M54.0 208.1L57.5 211.8L54.0 215.4L50.6 211.8Z" fill="#008000"/><path d="M61.6 232.8L65.1 236.4L61.6 240.1L58.1 236.4Z" fill="#008000"/><path d="M69.2 254.1L72.6 257.8L69.2 261.4L65.7 257.8Z" fill="#008000"/><path d="M76.7 260.5L80.2 264.2L76.7 267.8L73.2 264.2Z" fill="#008000"/><path d="M84.2 273.8L87.7 277.5L84.2 281.1L80.8 277.5Z" fill="#008000"/><path d="M91.8 287.2L95.3 290.9L91.8 294.5L88.3 290.9Z" fill="#008000"/><path d="M99.3 308.7L102.8 312.4L99.3 316.0L95.9 312.4Z" fill="#008000"/><path d="M106.9 306.2L110.4 309.8L106.9 313.5L103.4 309.8Z" fill="#008000"/><path d="M114.5 309.3L117.9 313.0L114.5 316.6L111.0 313.0Z" fill="#008000"/><path d="M122.0 298.6L125.5 302.2L122.0 305.9L118.5 302.2Z" fill="#008000"/><path d="M129.6 307.5L133.0 311.1L129.6 314.8L126.1 311.1Z" fill="#008000"/><path d="M137.1 294.1L140.6 297.8L137.1 301.4L133.6 297.8Z" fill="#008000"/><path d="M144.7 273.8L148.1 277.5L144.7 281.1L141.2 277.5Z" fill="#008000"/><path d="M152.2 278.8L155.7 282.4L152.2 286.1L148.7 282.4Z" fill="#008000"/><path d="M159.8 272.8L163.2 276.5L159.8 280.1L156.3 276.5Z" fill="#008000"/><path d="M167.3 263.6L170.8 267.2L167.3 270.9L163.8 267.2Z" fill="#008000"/><path d="M174.8 262.3L178.3 265.9L174.8 269.6L171.4 265.9Z" fill="#008000"/><path d="M182.4 254.7L185.9 258.3L182.4 262.0L178.9 258.3Z" fill="#008000"/><path d="M190.0 288.9L193.4 292.6L190.0 296.2L186.5 292.6Z" fill="#008000"/><path d="M197.5 306.9L201.0 310.5L197.5 314.2L194.0 310.5Z" fill="#008000"/><path d="M205.1 336.0L208.5 339.6L205.1 343.3L201.6 339.6Z" fill="#008000"/><path d="M212.6 347.1L216.1 350.8L212.6 354.4L209.1 350.8Z" fill="#008000"/><path d="M220.2 378.4L223.6 382.0L220.2 385.7L216.7 382.0Z" fill="#008000"/><path d="M227.7 392.4L231.2 396.0L227.7 399.7L224.2 396.0Z" fill="#008000"/><path d="M235.2 387.2L238.7 390.9L235.2 394.5L231.8 390.9Z" fill="#008000"/><path d="M242.8 397.4L246.3 401.1L242.8 404.7L239.3 401.1Z" fill="#008000"/><path d="M250.4 393.4L253.8 397.0L250.4 400.7L246.9 397.0Z" fill="#008000"/><path d="M257.9 395.4L261.4 399.1L257.9 402.7L254.4 399.1Z" fill="#008000"/><path d="M265.5 400.5L268.9 404.1L265.5 407.8L262.0 404.1Z" fill="#008000"/><path d="M273.0 388.3L276.5 392.0L273.0 395.6L269.5 392.0Z" fill="#008000"/><path d="M280.6 397.4L284.0 401.1L280.6 404.7L277.1 401.1Z" fill="#008000"/><path d="M288.1 382.3L291.6 386.0L288.1 389.6L284.6 386.0Z" fill="#008000"/><path d="M295.6 387.3L299.1 391.0L295.6 394.6L292.2 391.0Z" fill="#008000"/><path d="M303.2 367.2L306.7 370.9L303.2 374.5L299.7 370.9Z" fill="#008000"/><path d="M310.8 370.2L314.2 373.8L310.8 377.5L307.3 373.8Z" fill="#008000"/><path d="M318.3 365.2L321.8 368.8L318.3 372.5L314.8 368.8Z" fill="#008000"/><path d="M325.9 343.1L329.3 346.7L325.9 350.4L322.4 346.7Z" fill="#008000"/><path d="M333.4 340.0L336.9 343.7L333.4 347.3L329.9 343.7Z" fill="#008000"/><path d="M340.9 339.0L344.4 342.7L340.9 346.3L337.5 342.7Z" fill="#008000"/><path d="M348.5 328.0L352.0 331.6L348.5 335.3L345.0 331.6Z" fill="#008000"/><path d="M356.1 341.1L359.5 344.7L356.1 348.4L352.6 344.7Z" fill="#008000"/><path d="M363.6 335.0L367.1 338.6L363.6 342.3L360.1 338.6Z" fill="#008000"/><path d="M371.2 322.0L374.6 325.6L371.2 329.3L367.7 325.6Z" fill="#008000"/><path d="M378.7 343.1L382.2 346.7L378.7 350.4L375.2 346.7Z" fill="#008000"/><path d="M386.2 347.1L389.7 350.8L386.2 354.4L382.8 350.8Z" fill="#008000"/><path d="M393.8 349.1L397.3 352.7L393.8 356.4L390.3 352.7Z" fill="#008000"/><path d="M401.4 347.1L404.8 350.8L401.4 354.4L397.9 350.8Z" fill="#008000"/><path d="M408.9 351.0L412.4 354.7L408.9 358.3L405.4 354.7Z" fill="#008000"/><path d="M416.5 356.2L419.9 359.8L416.5 363.5L413.0 359.8Z" fill="#008000"/><path d="M424.0 372.3L427.5 375.9L424.0 379.6L420.5 375.9Z" fill="#008000"/><path d="M431.6 371.3L435.0 374.9L431.6 378.6L428.1 374.9Z" fill="#008000"/><path d="M439.1 380.3L442.6 384.0L439.1 387.6L435.6 384.0Z" fill="#008000"/><path d="M446.7 376.3L450.1 379.9L446.7 383.6L443.2 379.9Z" fill="#008000"/><path d="M454.2 390.3L457.7 394.0L454.2 397.6L450.7 394.0Z" fill="#008000"/><path d="M461.8 384.3L465.2 387.9L461.8 391.6L458.3 387.9Z" fill="#008000"/><path d="M469.3 366.2L472.8 369.9L469.3 373.5L465.8 369.9Z" fill="#008000"/><path d="M476.9 379.3L480.3 382.9L476.9 386.6L473.4 382.9Z" fill="#008000"/><path d="M484.4 372.3L487.9 375.9L484.4 379.6L480.9 375.9Z" fill="#008000"/><path d="M492.0 361.2L495.4 364.9L492.0 368.5L488.5 364.9Z" fill="#008000"/><path d="M499.5 366.2L503.0 369.9L499.5 373.5L496.0 369.9Z" fill="#008000"/><path d="M507.1 348.3L510.5 351.9L507.1 355.6L503.6 351.9Z" fill="#008000"/><path d="M514.6 330.5L518.1 334.2L514.6 337.8L511.1 334.2Z" fill="#008000"/><path d="M522.2 310.3L525.6 314.0L522.2 317.6L518.7 314.0Z" fill="#008000"/><path d="M529.7 321.2L533.2 324.8L529.7 328.5L526.2 324.8Z" fill="#008000"/><path d="M537.2 289.1L540.7 292.8L537.2 296.4L533.8 292.8Z" fill="#008000"/><path d="M544.8 282.2L548.3 285.9L544.8 289.5L541.3 285.9Z" fill="#008000"/><path d="M552.4 257.1L555.8 260.7L552.4 264.4L548.9 260.7Z" fill="#008000"/><path d="M559.9 229.0L563.4 232.7L559.9 236.3L556.4 232.7Z" fill="#008000"/><path d="M567.5 202.1L570.9 205.8L567.5 209.4L564.0 205.8Z" fill="#008000"/><path d="M575.0 179.0L578.5 182.7L575.0 186.3L571.5 182.7Z" fill="#008000"/><path d="M582.6 175.0L586.0 178.7L582.6 182.3L579.1 178.7Z" fill="#008000"/><path d="M590.1 155.9L593.6 159.5L590.1 163.2L586.6 159.5Z" fill="#008000"/><path d="M597.6 172.9L601.1 176.6L597.6 180.2L594.2 176.6Z" fill="#008000"/><path d="M605.2 175.0L608.7 178.7L605.2 182.3L601.7 178.7Z" fill="#008000"/><path d="M612.8 207.2L616.2 210.8L612.8 214.5L609.3 210.8Z" fill="#008000"/><path d="M620.3 219.3L623.8 222.9L620.3 226.6L616.8 222.9Z" fill="#008000"/><path d="M627.9 236.2L631.3 239.8L627.9 243.5L624.4 239.8Z" fill="#008000"/><path d="M635.4 249.1L638.9 252.7L635.4 256.4L631.9 252.7Z" fill="#008000"/><path d="M643.0 251.0L646.4 254.7L643.0 258.3L639.5 254.7Z" fill="#008000"/><path d="M650.5 275.2L654.0 278.9L650.5 282.5L647.0 278.9Z" fill="#008000"/><path d="M658.1 280.2L661.5 283.9L658.1 287.5L654.6 283.9Z" fill="#008000"/><path d="M665.6 306.7L669.1 310.3L665.6 314.0L662.1 310.3Z" fill="#008000"/><path d="M673.2 306.4L676.6 310.0L673.2 313.7L669.7 310.0Z" fill="#008000"/><path d="M680.7 306.3L684.2 309.9L680.7 313.6L677.2 309.9Z" fill="#008000"/><path d="M688.2 311.3L691.7 315.0L688.2 318.6L684.8 315.0Z" fill="#008000"/><path d="M695.8 319.2L699.3 322.8L695.8 326.5L692.3 322.8Z" fill="#008000"/><path d="M703.4 331.4L706.8 335.1L703.4 338.7L699.9 335.1Z" fill="#008000"/><path d="M710.9 323.1L714.4 326.8L710.9 330.4L707.4 326.8Z" fill="#008000"/><path d="M718.5 327.2L721.9 330.8L718.5 334.5L715.0 330.8Z" fill="#008000"/><path d="M726.0 319.3L729.5 322.9L726.0 326.6L722.5 322.9Z" fill="#008000"/><path d="M733.6 304.2L737.0 307.9L733.6 311.5L730.1 307.9Z" fill="#008000"/><path d="M741.1 307.6L744.6 311.2L741.1 314.9L737.6 311.2Z" fill="#008000"/><path d="M748.7 308.5L752.1 312.2L748.7 315.8L745.2 312.2Z" fill="#008000"/><path d="M756.2 287.1L759.7 290.8L756.2 294.4L752.7 290.8Z" fill="#008000"/><path d="M763.8 284.1L767.2 287.7L763.8 291.4L760.3 287.7Z" fill="#008000"/><path d="M771.3 271.0L774.8 274.6L771.3 278.3L767.8 274.6Z" fill="#008000"/><path d="M778.9 245.6L782.3 249.3L778.9 252.9L775.4 249.3Z" fill="#008000"/><path d="M786.4 245.6L789.9 249.3L786.4 252.9L782.9 249.3Z" fill="#008000"/><path d="M794.0 239.6L797.4 243.3L794.0 246.9L790.5 243.3Z" fill="#008000"/><path d="M801.5 222.1L805.0 225.8L801.5 229.4L798.0 225.8Z" fill="#008000"/>
<polyline points="46.5,244.6 54.0,254.3 61.6,257.8 69.2,270.1 76.7,266.6 84.2,278.5 91.8,284.6 99.3,285.9 106.9,283.2 114.5,283.9 122.0,278.9 129.6,277.5 137.1,265.9 144.7,259.5 152.2,255.0 159.8,246.9 167.3,250.4 174.8,256.3 182.4,273.5 190.0,296.4 197.5,305.9 205.1,330.3 212.6,348.0 220.2,364.9 227.7,377.9 235.2,374.9 242.8,379.9 250.4,375.9 257.9,378.9 265.5,378.9 273.0,373.8 280.6,377.9 288.1,372.8 295.6,368.8 303.2,350.8 310.8,346.7 318.3,331.3 325.9,310.0 333.4,304.1 340.9,296.4 348.5,290.4 356.1,290.8 363.6,288.8 371.2,282.4 378.7,290.2 386.2,289.4 393.8,288.8 401.4,297.9 408.9,294.8 416.5,310.0 424.0,318.4 431.6,325.0 439.1,323.8 446.7,332.9 454.2,333.9 461.8,331.3 469.3,326.1 476.9,329.9 484.4,325.3 492.0,316.9 499.5,307.1 507.1,302.7 514.6,297.4 522.2,290.5 529.7,285.9 537.2,275.8 544.8,267.8 552.4,260.7 559.9,250.6 567.5,244.2 575.0,240.2 582.6,236.5 590.1,236.0 597.6,242.0 605.2,247.2 612.8,245.0 620.3,255.1 627.9,263.8 635.4,278.9 643.0,280.2 650.5,290.9 658.1,305.8 665.6,313.3 673.2,318.9 680.7,334.7 688.2,339.0 695.8,342.2 703.4,345.7 710.9,352.3 718.5,353.7 726.0,357.8 733.6,347.1 741.1,344.6 748.7,336.4 756.2,331.8 763.8,321.5 771.3,313.7 778.9,302.8 786.4,293.7 794.0,287.7 801.5,280.7" fill="none" stroke="#008000" stroke-width="3.2" stroke-linejoin="round" stroke-dasharray="3 5.25"/><path d="M46.5 241.0L50.0 244.6L46.5 248.3L43.0 244.6Z" fill="#008000"/><path d="M54.0 250.6L57.5 254.3L54.0 257.9L50.6 254.3Z" fill="#008000"/><path d="M61.6 254.1L65.1 257.8L61.6 261.4L58.1 257.8Z" fill="#008000"/><path d="M69.2 266.4L72.6 270.1L69.2 273.7L65.7 270.1Z" fill="#008000"/><path d="M76.7 263.0L80.2 266.6L76.7 270.3L73.2 266.6Z" fill="#008000"/><path d="M84.2 274.8L87.7 278.5L84.2 282.1L80.8 278.5Z" fill="#008000"/><path d="M91.8 280.9L95.3 284.6L91.8 288.2L88.3 284.6Z" fill="#008000"/><path d="M99.3 282.2L102.8 285.9L99.3 289.5L95.9 285.9Z" fill="#008000"/><path d="M106.9 279.5L110.4 283.2L106.9 286.8L103.4 283.2Z" fill="#008000"/><path d="M114.5 280.2L117.9 283.9L114.5 287.5L111.0 283.9Z" fill="#008000"/><path d="M122.0 275.2L125.5 278.9L122.0 282.5L118.5 278.9Z" fill="#008000"/><path d="M129.6 273.8L133.0 277.5L129.6 281.1L126.1 277.5Z" fill="#008000"/><path d="M137.1 262.3L140.6 265.9L137.1 269.6L133.6 265.9Z" fill="#008000"/><path d="M144.7 255.9L148.1 259.5L144.7 263.2L141.2 259.5Z" fill="#008000"/><path d="M152.2 251.3L155.7 255.0L152.2 258.6L148.7 255.0Z" fill="#008000"/><path d="M159.8 243.3L163.2 246.9L159.8 250.6L156.3 246.9Z" fill="#008000"/><path d="M167.3 246.7L170.8 250.4L167.3 254.0L163.8 250.4Z" fill="#008000"/><path d="M174.8 252.6L178.3 256.3L174.8 259.9L171.4 256.3Z" fill="#008000"/><path d="M182.4 269.9L185.9 273.5L182.4 277.2L178.9 273.5Z" fill="#008000"/><path d="M190.0 292.8L193.4 296.4L190.0 300.1L186.5 296.4Z" fill="#008000"/><path d="M197.5 302.2L201.0 305.9L197.5 309.5L194.0 305.9Z" fill="#008000"/><path d="M205.1 326.7L208.5 330.3L205.1 334.0L201.6 330.3Z" fill="#008000"/><path d="M212.6 344.3L216.1 348.0L212.6 351.6L209.1 348.0Z" fill="#008000"/><path d="M220.2 361.2L223.6 364.9L220.2 368.5L216.7 364.9Z" fill="#008000"/><path d="M227.7 374.2L231.2 377.9L227.7 381.5L224.2 377.9Z" fill="#008000"/><path d="M235.2 371.3L238.7 374.9L235.2 378.6L231.8 374.9Z" fill="#008000"/><path d="M242.8 376.3L246.3 379.9L242.8 383.6L239.3 379.9Z" fill="#008000"/><path d="M250.4 372.3L253.8 375.9L250.4 379.6L246.9 375.9Z" fill="#008000"/><path d="M257.9 375.2L261.4 378.9L257.9 382.5L254.4 378.9Z" fill="#008000"/><path d="M265.5 375.2L268.9 378.9L265.5 382.5L262.0 378.9Z" fill="#008000"/><path d="M273.0 370.2L276.5 373.8L273.0 377.5L269.5 373.8Z" fill="#008000"/><path d="M280.6 374.2L284.0 377.9L280.6 381.5L277.1 377.9Z" fill="#008000"/><path d="M288.1 369.2L291.6 372.8L288.1 376.5L284.6 372.8Z" fill="#008000"/><path d="M295.6 365.2L299.1 368.8L295.6 372.5L292.2 368.8Z" fill="#008000"/><path d="M303.2 347.1L306.7 350.8L303.2 354.4L299.7 350.8Z" fill="#008000"/><path d="M310.8 343.1L314.2 346.7L310.8 350.4L307.3 346.7Z" fill="#008000"/><path d="M318.3 327.7L321.8 331.3L318.3 335.0L314.8 331.3Z" fill="#008000"/><path d="M325.9 306.4L329.3 310.0L325.9 313.7L322.4 310.0Z" fill="#008000"/><path d="M333.4 300.5L336.9 304.1L333.4 307.8L329.9 304.1Z" fill="#008000"/><path d="M340.9 292.8L344.4 296.4L340.9 300.1L337.5 296.4Z" fill="#008000"/><path d="M348.5 286.7L352.0 290.4L348.5 294.0L345.0 290.4Z" fill="#008000"/><path d="M356.1 287.1L359.5 290.8L356.1 294.4L352.6 290.8Z" fill="#008000"/><path d="M363.6 285.2L367.1 288.8L363.6 292.5L360.1 288.8Z" fill="#008000"/><path d="M371.2 278.8L374.6 282.4L371.2 286.1L367.7 282.4Z" fill="#008000"/><path d="M378.7 286.5L382.2 290.2L378.7 293.8L375.2 290.2Z" fill="#008000"/><path d="M386.2 285.8L389.7 289.4L386.2 293.1L382.8 289.4Z" fill="#008000"/><path d="M393.8 285.2L397.3 288.8L393.8 292.5L390.3 288.8Z" fill="#008000"/><path d="M401.4 294.2L404.8 297.9L401.4 301.5L397.9 297.9Z" fill="#008000"/><path d="M408.9 291.2L412.4 294.8L408.9 298.5L405.4 294.8Z" fill="#008000"/><path d="M416.5 306.4L419.9 310.0L416.5 313.7L413.0 310.0Z" fill="#008000"/><path d="M424.0 314.8L427.5 318.4L424.0 322.1L420.5 318.4Z" fill="#008000"/><path d="M431.6 321.4L435.0 325.0L431.6 328.7L428.1 325.0Z" fill="#008000"/><path d="M439.1 320.2L442.6 323.8L439.1 327.5L435.6 323.8Z" fill="#008000"/><path d="M446.7 329.3L450.1 332.9L446.7 336.6L443.2 332.9Z" fill="#008000"/><path d="M454.2 330.2L457.7 333.9L454.2 337.5L450.7 333.9Z" fill="#008000"/><path d="M461.8 327.7L465.2 331.3L461.8 335.0L458.3 331.3Z" fill="#008000"/><path d="M469.3 322.4L472.8 326.1L469.3 329.7L465.8 326.1Z" fill="#008000"/><path d="M476.9 326.3L480.3 329.9L476.9 333.6L473.4 329.9Z" fill="#008000"/><path d="M484.4 321.7L487.9 325.3L484.4 329.0L480.9 325.3Z" fill="#008000"/><path d="M492.0 313.3L495.4 316.9L492.0 320.6L488.5 316.9Z" fill="#008000"/><path d="M499.5 303.4L503.0 307.1L499.5 310.7L496.0 307.1Z" fill="#008000"/><path d="M507.1 299.1L510.5 302.7L507.1 306.4L503.6 302.7Z" fill="#008000"/><path d="M514.6 293.7L518.1 297.4L514.6 301.0L511.1 297.4Z" fill="#008000"/><path d="M522.2 286.8L525.6 290.5L522.2 294.1L518.7 290.5Z" fill="#008000"/><path d="M529.7 282.2L533.2 285.9L529.7 289.5L526.2 285.9Z" fill="#008000"/><path d="M537.2 272.1L540.7 275.8L537.2 279.4L533.8 275.8Z" fill="#008000"/><path d="M544.8 264.2L548.3 267.8L544.8 271.5L541.3 267.8Z" fill="#008000"/><path d="M552.4 257.1L555.8 260.7L552.4 264.4L548.9 260.7Z" fill="#008000"/><path d="M559.9 247.0L563.4 250.6L559.9 254.3L556.4 250.6Z" fill="#008000"/><path d="M567.5 240.6L570.9 244.2L567.5 247.9L564.0 244.2Z" fill="#008000"/><path d="M575.0 236.5L578.5 240.2L575.0 243.8L571.5 240.2Z" fill="#008000"/><path d="M582.6 232.9L586.0 236.5L582.6 240.2L579.1 236.5Z" fill="#008000"/><path d="M590.1 232.3L593.6 236.0L590.1 239.6L586.6 236.0Z" fill="#008000"/><path d="M597.6 238.3L601.1 242.0L597.6 245.6L594.2 242.0Z" fill="#008000"/><path d="M605.2 243.5L608.7 247.2L605.2 250.8L601.7 247.2Z" fill="#008000"/><path d="M612.8 241.4L616.2 245.0L612.8 248.7L609.3 245.0Z" fill="#008000"/><path d="M620.3 251.4L623.8 255.1L620.3 258.7L616.8 255.1Z" fill="#008000"/><path d="M627.9 260.1L631.3 263.8L627.9 267.4L624.4 263.8Z" fill="#008000"/><path d="M635.4 275.2L638.9 278.9L635.4 282.5L631.9 278.9Z" fill="#008000"/><path d="M643.0 276.6L646.4 280.2L643.0 283.9L639.5 280.2Z" fill="#008000"/><path d="M650.5 287.2L654.0 290.9L650.5 294.5L647.0 290.9Z" fill="#008000"/><path d="M658.1 302.1L661.5 305.8L658.1 309.4L654.6 305.8Z" fill="#008000"/><path d="M665.6 309.6L669.1 313.3L665.6 316.9L662.1 313.3Z" fill="#008000"/><path d="M673.2 315.2L676.6 318.9L673.2 322.5L669.7 318.9Z" fill="#008000"/><path d="M680.7 331.0L684.2 334.7L680.7 338.3L677.2 334.7Z" fill="#008000"/><path d="M688.2 335.4L691.7 339.0L688.2 342.7L684.8 339.0Z" fill="#008000"/><path d="M695.8 338.5L699.3 342.2L695.8 345.8L692.3 342.2Z" fill="#008000"/><path d="M703.4 342.1L706.8 345.7L703.4 349.4L699.9 345.7Z" fill="#008000"/><path d="M710.9 348.7L714.4 352.3L710.9 356.0L707.4 352.3Z" fill="#008000"/><path d="M718.5 350.1L721.9 353.7L718.5 357.4L715.0 353.7Z" fill="#008000"/><path d="M726.0 354.1L729.5 357.8L726.0 361.4L722.5 357.8Z" fill="#008000"/><path d="M733.6 343.5L737.0 347.1L733.6 350.8L730.1 347.1Z" fill="#008000"/><path d="M741.1 341.0L744.6 344.6L741.1 348.3L737.6 344.6Z" fill="#008000"/><path d="M748.7 332.7L752.1 336.4L748.7 340.0L745.2 336.4Z" fill="#008000"/><path d="M756.2 328.2L759.7 331.8L756.2 335.5L752.7 331.8Z" fill="#008000"/><path d="M763.8 317.8L767.2 321.5L763.8 325.1L760.3 321.5Z" fill="#008000"/><path d="M771.3 310.0L774.8 313.7L771.3 317.3L767.8 313.7Z" fill="#008000"/><path d="M778.9 299.2L782.3 302.8L778.9 306.5L775.4 302.8Z" fill="#008000"/><path d="M786.4 290.1L789.9 293.7L786.4 297.4L782.9 293.7Z" fill="#008000"/><path d="M794.0 284.1L797.4 287.7L794.0 291.4L790.5 287.7Z" fill="#008000"/><path d="M801.5 277.1L805.0 280.7L801.5 284.4L798.0 280.7Z" fill="#008000"/>
</g>
<line x1="42.8" y1="455" x2="840" y2="455" stroke="#808080" stroke-width="2"/>
<line x1="46.5" y1="60" x2="46.5" y2="458.6" stroke="#000" stroke-width="1.2"/>
<line x1="42.8" y1="356.4" x2="46.5" y2="356.4" stroke="#000" stroke-width="1.2"/>
<line x1="42.8" y1="257.8" x2="46.5" y2="257.8" stroke="#000" stroke-width="1.2"/>
<line x1="42.8" y1="159.1" x2="46.5" y2="159.1" stroke="#000" stroke-width="1.2"/>
<line x1="42.8" y1="60.5" x2="46.5" y2="60.5" stroke="#000" stroke-width="1.2"/>
<line x1="197.5" y1="454.5" x2="197.5" y2="458.6" stroke="#000" stroke-width="1.2"/>
<line x1="348.5" y1="454.5" x2="348.5" y2="458.6" stroke="#000" stroke-width="1.2"/>
<line x1="499.5" y1="454.5" x2="499.5" y2="458.6" stroke="#000" stroke-width="1.2"/>
<line x1="650.5" y1="454.5" x2="650.5" y2="458.6" stroke="#000" stroke-width="1.2"/>
<line x1="44.4" y1="20.2" x2="75.7" y2="20.2" stroke="#ff0000" stroke-width="3.2"/><rect x="57.7" y="17.6" width="5.1" height="5.1" fill="#ff0000"/>
<line x1="46.1" y1="41.0" x2="75.7" y2="41.0" stroke="#ff0000" stroke-width="3.2" stroke-dasharray="3 5.25"/><rect x="57.7" y="38.5" width="5.1" height="5.1" fill="#ff0000"/>
<line x1="245.0" y1="20.3" x2="276.3" y2="20.3" stroke="#0000ff" stroke-width="3.2"/><circle cx="260.8" cy="20.3" r="2.5" fill="#0000ff"/>
<line x1="246.7" y1="41.0" x2="276.3" y2="41.0" stroke="#0000ff" stroke-width="3.2" stroke-dasharray="3 5.25"/><circle cx="260.8" cy="41.0" r="2.5" fill="#0000ff"/>
<line x1="522.7" y1="19.4" x2="554.0" y2="19.4" stroke="#008000" stroke-width="3.2"/><path d="M538.5 15.7L542.0 19.4L538.5 23.0L535.0 19.4Z" fill="#008000"/>
<line x1="524.4" y1="40.2" x2="554.0" y2="40.2" stroke="#008000" stroke-width="3.2" stroke-dasharray="3 5.25"/><path d="M538.5 36.6L542.0 40.2L538.5 43.9L535.0 40.2Z" fill="#008000"/>
<g font-family="Liberation Serif, serif" fill="#000"><text transform="translate(77.80,26.80) scale(0.9425,1)" font-size="19.8">ABC</text>
<text transform="translate(122.60,26.80) scale(0.9302,1)" font-size="19.8">mean</text>
<text transform="translate(77.60,46.30) scale(0.9400,1)" font-size="19.8">ABC</text>
<text transform="translate(121.30,46.30) scale(0.9473,1)" font-size="19.8">predicted</text>
<text transform="translate(198.90,46.30) scale(0.9308,1)" font-size="19.8">error</text>
<text transform="translate(279.70,26.80) scale(0.9146,1)" font-size="19.8">CNN</text>
<text transform="translate(324.60,26.80) scale(0.9014,1)" font-size="19.8">classifier</text>
<text transform="translate(396.30,26.80) scale(0.9209,1)" font-size="19.8">mean</text>
<text transform="translate(279.70,46.30) scale(0.9146,1)" font-size="19.8">CNN</text>
<text transform="translate(324.60,46.30) scale(0.9014,1)" font-size="19.8">classifier</text>
<text transform="translate(396.30,46.30) scale(0.9378,1)" font-size="19.8">predicted</text>
<text transform="translate(473.70,46.30) scale(0.9077,1)" font-size="19.8">error</text>
<text transform="translate(559.30,23.90) scale(0.9245,1)" font-size="19.8">LSTM</text>
<text transform="translate(616.10,23.90) scale(0.9137,1)" font-size="19.8">regressor</text>
<text transform="translate(689.80,23.90) scale(0.8974,1)" font-size="19.8">NLL</text>
<text transform="translate(559.30,44.60) scale(0.9245,1)" font-size="19.8">LSTM</text>
<text transform="translate(616.10,44.60) scale(0.9137,1)" font-size="19.8">regressor</text>
<text transform="translate(689.80,44.60) scale(0.8974,1)" font-size="19.8">NLL</text>
<text transform="translate(731.80,44.60) scale(0.9473,1)" font-size="19.8">predicted</text>
<text transform="translate(809.80,44.60) scale(0.8641,1)" font-size="19.8">error</text>
<text transform="translate(31.60,461.40) scale(0.9111,1)" font-size="18.6">0</text>
<text transform="translate(31.69,362.77) scale(0.9143,1)" font-size="18.6">1</text>
<text transform="translate(31.60,264.15) scale(0.9111,1)" font-size="18.6">2</text>
<text transform="translate(31.60,165.53) scale(0.9111,1)" font-size="18.6">3</text>
<text transform="translate(31.60,66.90) scale(0.9111,1)" font-size="18.6">4</text>
<text transform="translate(42.80,473.80) scale(0.9111,1)" font-size="18.6">0</text>
<text transform="translate(193.80,473.80) scale(0.9111,1)" font-size="18.6">2</text>
<text transform="translate(344.80,473.80) scale(0.9111,1)" font-size="18.6">4</text>
<text transform="translate(495.80,473.80) scale(0.9111,1)" font-size="18.6">6</text>
<text transform="translate(646.80,473.80) scale(0.9111,1)" font-size="18.6">8</text>
<text transform="translate(382.23,492.60) scale(1.1652,1)" font-size="19.8">&minus;&Delta;</text>
<text transform="translate(417.10,492.60) scale(0.9911,1)" font-size="19.8">(units</text>
<text transform="translate(467.80,492.60) scale(0.9471,1)" font-size="19.8">of</text>
<text transform="translate(487.70,492.60) scale(1.0312,1)" font-size="19.8"><tspan font-style="italic">&kappa;</tspan>)</text>
<text transform="translate(263.90,95.00) scale(1.2875,1)" font-size="16.8"><tspan font-style="italic">n</tspan></text>
<text transform="translate(278.66,96.90) scale(1.2400,1)" font-size="19.8">=</text>
<text transform="translate(298.03,96.90) scale(0.9714,1)" font-size="18.6">1</text>
<text transform="translate(477.80,95.00) scale(1.2875,1)" font-size="16.8"><tspan font-style="italic">n</tspan></text>
<text transform="translate(492.56,96.90) scale(1.2400,1)" font-size="19.8">=</text>
<text transform="translate(512.60,96.90) scale(0.8667,1)" font-size="18.6">2</text>
<text transform="translate(687.80,95.00) scale(1.2875,1)" font-size="16.8"><tspan font-style="italic">n</tspan></text>
<text transform="translate(702.56,96.90) scale(1.2400,1)" font-size="19.8">=</text>
<text transform="translate(722.60,96.90) scale(0.9000,1)" font-size="18.6">3</text>
<text transform="translate(20.40,325.30) rotate(-90) scale(0.9547,1)" font-size="19.8">RMSE</text>
<text transform="translate(20.40,267.20) rotate(-90) scale(0.9556,1)" font-size="19.8">(units</text>
<text transform="translate(20.40,219.60) rotate(-90) scale(1.0412,1)" font-size="19.8">of</text>
<text transform="translate(20.40,196.50) rotate(-90) scale(0.9812,1)" font-size="19.8"><tspan font-style="italic">&kappa;</tspan>)</text></g>
</svg>
</body></html>
